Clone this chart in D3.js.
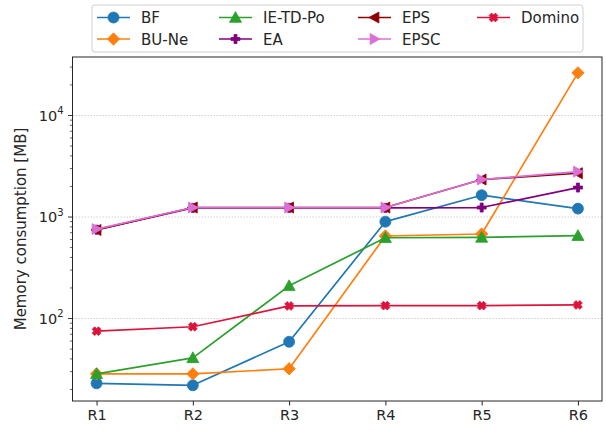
<!DOCTYPE html>
<html>
<head>
<meta charset="utf-8">
<script src="https://cdn.jsdelivr.net/npm/d3@7"></script>
<style>
  html, body { margin: 0; padding: 0; background: #fff; }
  svg { display: block; font-family: "DejaVu Sans", sans-serif; }
</style>
</head>
<body>
<svg id="chart" width="606" height="430"></svg>
<script>
// Runs (x categories)
const runs = ["R1", "R2", "R3", "R4", "R5", "R6"];

// Memory consumption per approach, in MB
const bf       = [23, 22, 59, 900, 1640, 1210];
const buNe     = [28.5, 28.5, 32, 650, 680, 26300];
const ieTdPo   = [28.5, 41, 210, 625, 630, 655];
const ea       = [750, 1230, 1230, 1230, 1240, 1950];
const eps      = [745, 1240, 1240, 1240, 2340, 2700];
const epsc     = [760, 1240, 1240, 1240, 2340, 2800];
const domino   = [75, 83, 133, 134, 134, 136];

const seriesNames = ["BF", "BU-Ne", "IE-TD-Po", "EA", "EPS", "EPSC", "Domino"];
const yMajorTicks = [100, 1000, 10000];

const series = [
  { name: "BF",       values: bf,     color: "#1f77b4", marker: "circle" },
  { name: "BU-Ne",    values: buNe,   color: "#ff7f0e", marker: "diamond" },
  { name: "IE-TD-Po", values: ieTdPo, color: "#2ca02c", marker: "triUp" },
  { name: "EA",       values: ea,     color: "#800080", marker: "plus" },
  { name: "EPS",      values: eps,    color: "#8b0000", marker: "triLeft" },
  { name: "EPSC",     values: epsc,   color: "#da70d6", marker: "triRight" },
  { name: "Domino",   values: domino, color: "#dc143c", marker: "x" }
];

const svg = d3.select("#chart");
const plot = { left: 72.5, right: 602, top: 57, bottom: 401 };

const x = d3.scalePoint()
  .domain(runs)
  .range([plot.left, plot.right])
  .padding(0.25);

const y = d3.scaleLog()
  .domain([15.4, 37700])
  .range([plot.bottom, plot.top]);

// Grid lines at the decades
svg.append("g")
  .selectAll("line")
  .data(yMajorTicks)
  .join("line")
  .attr("x1", plot.left).attr("x2", plot.right)
  .attr("y1", d => y(d)).attr("y2", d => y(d))
  .attr("stroke", "#c4c4c4")
  .attr("stroke-width", 0.8)
  .attr("stroke-dasharray", "1.5,1.5");

// Marker path generators (centered on 0,0)
function markerPath(kind) {
  switch (kind) {
    case "circle": return d3.symbol(d3.symbolCircle, 95)();
    case "diamond": { const s = 6.2; return `M0,${-s}L${s},0L0,${s}L${-s},0Z`; }
    case "triUp": { const s = 6; return `M0,${-s}L${s},${s * 0.8}L${-s},${s * 0.8}Z`; }
    case "triLeft": { const s = 5.5; return `M${-s},0L${s * 0.8},${-s}L${s * 0.8},${s}Z`; }
    case "triRight": { const s = 5.5; return `M${s},0L${-s * 0.8},${-s}L${-s * 0.8},${s}Z`; }
    case "plus": {
      const a = 4.5, b = 1.5;
      return `M${-b},${-a}H${b}V${-b}H${a}V${b}H${b}V${a}H${-b}V${b}H${-a}V${-b}H${-b}Z`;
    }
    case "x": {
      const a = 4.4, b = 2.5;
      const p = [[-a, -a + b], [-a + b, -a], [0, -b], [a - b, -a], [a, -a + b], [b, 0],
                 [a, a - b], [a - b, a], [0, b], [-a + b, a], [-a, a - b], [-b, 0]];
      return "M" + p.map(q => q.join(",")).join("L") + "Z";
    }
  }
}

const line = d3.line()
  .x((d, i) => x(runs[i]))
  .y(d => y(d));

const lines = svg.append("g");
series.forEach(s => {
  const g = lines.append("g");
  g.append("path")
    .datum(s.values)
    .attr("d", line)
    .attr("fill", "none")
    .attr("stroke", s.color)
    .attr("stroke-width", 1.7)
    .attr("stroke-linejoin", "round");
  g.selectAll("path.mk")
    .data(s.values)
    .join("path")
    .attr("class", "mk")
    .attr("d", markerPath(s.marker))
    .attr("transform", (d, i) => `translate(${x(runs[i])},${y(d)})`)
    .attr("fill", s.color)
    .attr("stroke", s.color)
    .attr("stroke-width", 0.8);
});

// Frame
svg.append("rect")
  .attr("x", plot.left).attr("y", plot.top)
  .attr("width", plot.right - plot.left)
  .attr("height", plot.bottom - plot.top)
  .attr("fill", "none")
  .attr("stroke", "#262626")
  .attr("stroke-width", 1);

// X axis
const xAxis = svg.append("g")
  .attr("transform", `translate(0,${plot.bottom})`)
  .call(d3.axisBottom(x).tickSize(4.5).tickPadding(4));
xAxis.select(".domain").remove();
xAxis.selectAll("line").attr("stroke", "#262626");
xAxis.selectAll("text")
  .attr("fill", "#262626")
  .style("font-size", "14.5px")
  .style("font-family", "DejaVu Sans");

// Y axis: major ticks with power-of-ten labels, minor ticks in between
const minorTicks = [];
for (let e = 1; e <= 4; e++) {
  for (let m = 2; m <= 9; m++) {
    const v = m * Math.pow(10, e);
    if (v >= y.domain()[0] && v <= y.domain()[1]) minorTicks.push(v);
  }
}
const yAxis = svg.append("g");
yAxis.selectAll("line.minor")
  .data(minorTicks)
  .join("line")
  .attr("x1", plot.left - 2.6).attr("x2", plot.left)
  .attr("y1", d => y(d)).attr("y2", d => y(d))
  .attr("stroke", "#262626").attr("stroke-width", 0.7);
yAxis.selectAll("line.major")
  .data(yMajorTicks)
  .join("line")
  .attr("x1", plot.left - 4.5).attr("x2", plot.left)
  .attr("y1", d => y(d)).attr("y2", d => y(d))
  .attr("stroke", "#262626").attr("stroke-width", 0.9);
const yl = yAxis.selectAll("text.major")
  .data(yMajorTicks)
  .join("text")
  .attr("text-anchor", "end")
  .attr("x", plot.left - 9)
  .attr("y", d => y(d) + 5)
  .attr("fill", "#262626")
  .style("font-size", "14.5px");
yl.append("tspan").text("10");
yl.append("tspan")
  .attr("dy", -6.5)
  .style("font-size", "10px")
  .text(d => Math.round(Math.log10(d)));

svg.append("text")
  .attr("transform", `translate(26,${(plot.top + plot.bottom) / 2}) rotate(-90)`)
  .attr("text-anchor", "middle")
  .attr("fill", "#262626")
  .style("font-size", "15px")
  .text("Memory consumption [MB]");

// Legend: four columns, filled column by column
const legend = svg.append("g");
legend.append("rect")
  .attr("x", 92).attr("y", 5).attr("width", 491).attr("height", 47)
  .attr("rx", 3)
  .attr("fill", "#fff").attr("fill-opacity", 0.8)
  .attr("stroke", "#d0d0d0").attr("stroke-width", 1);
const colX = [97, 219, 358, 477];
const rowY = [17.5, 39];
series.forEach((s, i) => {
  const col = Math.floor(i / 2), row = i % 2;
  const lx = colX[col], ly = rowY[row];
  const g = legend.append("g");
  g.append("line")
    .attr("x1", lx).attr("x2", lx + 33)
    .attr("y1", ly).attr("y2", ly)
    .attr("stroke", s.color).attr("stroke-width", 1.7);
  g.append("path")
    .attr("d", markerPath(s.marker))
    .attr("transform", `translate(${lx + 16.5},${ly})`)
    .attr("fill", s.color).attr("stroke", s.color).attr("stroke-width", 0.8);
  g.append("text")
    .attr("x", lx + 44).attr("y", ly + 5.5)
    .attr("fill", "#262626")
    .style("font-size", "15px")
    .text(seriesNames[i]);
});
</script>
</body>
</html>
